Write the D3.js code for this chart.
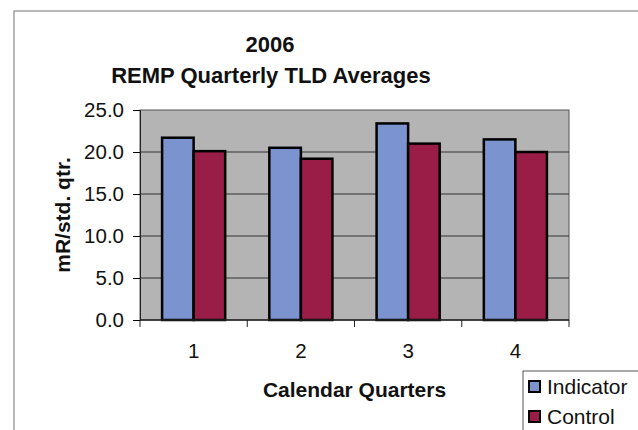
<!DOCTYPE html>
<html>
<head>
<meta charset="utf-8">
<script src="https://cdn.jsdelivr.net/npm/d3@7"></script>
<style>
  body { margin: 0; background: #fff; }
  svg text { font-family: "Liberation Sans", Arial, sans-serif; fill: #111; }
</style>
</head>
<body>
<div class="viz"></div>
<script>
// data
var quarters = ["1", "2", "3", "4"];
var seriesNames = ["Indicator", "Control"];
var indicator = [21.7, 20.5, 23.4, 21.5];
var control = [20.1, 19.2, 21.0, 20.0];
var yTicks = [0, 5, 10, 15, 20, 25];
var colors = ["#7b93cf", "#9a1d48"];

var width = 638, height = 430;
var margin = { top: 110, right: 69, bottom: 110, left: 140 };
var plotW = width - margin.left - margin.right;
var plotH = height - margin.top - margin.bottom;

var svg = d3.select(".viz").append("svg").attr("width", width).attr("height", height);

// outer chart frame (runs off the right and bottom of the scan)
svg.append("rect")
  .attr("x", 14).attr("y", 11)
  .attr("width", 700).attr("height", 500)
  .attr("fill", "#fff").attr("stroke", "#8a8a8a").attr("stroke-width", 1.2);

svg.append("text").attr("x", 270).attr("y", 52).attr("text-anchor", "middle")
  .style("font-size", "22px").style("font-weight", "bold").text("2006");
svg.append("text").attr("x", 271).attr("y", 83).attr("text-anchor", "middle")
  .style("font-size", "22px").style("font-weight", "bold").text("REMP Quarterly TLD Averages");

var g = svg.append("g").attr("transform", "translate(" + margin.left + "," + margin.top + ")");

var x = d3.scaleBand().domain(quarters).range([0, plotW]);
var x1 = d3.scaleBand().domain(seriesNames).range([0, x.bandwidth()]).paddingOuter(0.7);
var y = d3.scaleLinear().domain([0, 25]).range([plotH, 0]);

g.append("rect").attr("width", plotW).attr("height", plotH)
  .attr("fill", "#b4b4b4").attr("stroke", "#555").attr("stroke-width", 1);

g.selectAll("line.grid").data(yTicks.slice(1, -1)).enter().append("line")
  .attr("class", "grid")
  .attr("x1", 0).attr("x2", plotW)
  .attr("y1", function (d) { return y(d); }).attr("y2", function (d) { return y(d); })
  .attr("stroke", "#333").attr("stroke-width", 1);

var rows = quarters.map(function (q, i) {
  return { q: q, vals: [{ s: "Indicator", v: indicator[i] }, { s: "Control", v: control[i] }] };
});

g.selectAll("g.grp").data(rows).enter().append("g")
  .attr("class", "grp")
  .attr("transform", function (d) { return "translate(" + x(d.q) + ",0)"; })
  .selectAll("rect").data(function (d) { return d.vals; }).enter().append("rect")
  .attr("x", function (d) { return x1(d.s); })
  .attr("width", x1.bandwidth())
  .attr("y", function (d) { return y(d.v); })
  .attr("height", function (d) { return plotH - y(d.v); })
  .attr("fill", function (d, i) { return colors[i]; })
  .attr("stroke", "#000").attr("stroke-width", 2.5);

// y axis
var yAxis = g.append("g")
  .call(d3.axisLeft(y).tickValues(yTicks).tickFormat(d3.format(".1f")).tickSize(7).tickPadding(9));
yAxis.select(".domain").attr("stroke", "#222");
yAxis.selectAll("text").style("font-size", "20.5px");

// x axis with ticks at category boundaries
var xAxis = g.append("g").attr("transform", "translate(0," + plotH + ")");
xAxis.append("line").attr("x1", 0).attr("x2", plotW).attr("stroke", "#222").attr("stroke-width", 1.5);
var bounds = quarters.map(function (q) { return x(q); }).concat([plotW]);
xAxis.selectAll("line.tk").data(bounds).enter().append("line")
  .attr("class", "tk")
  .attr("x1", function (d) { return d; }).attr("x2", function (d) { return d; })
  .attr("y1", 0).attr("y2", 7).attr("stroke", "#222");
xAxis.selectAll("text").data(quarters).enter().append("text")
  .attr("x", function (d) { return x(d) + x.bandwidth() / 2; })
  .attr("y", 38).attr("text-anchor", "middle")
  .style("font-size", "20.5px").text(function (d) { return d; });

svg.append("text").attr("x", margin.left + plotW / 2).attr("y", 397).attr("text-anchor", "middle")
  .style("font-size", "21px").style("font-weight", "bold").text("Calendar Quarters");

svg.append("text").attr("transform", "translate(70,215) rotate(-90)").attr("text-anchor", "middle")
  .style("font-size", "21px").style("font-weight", "bold").text("mR/std. qtr.");

// legend
var leg = svg.append("g").attr("transform", "translate(523,371)");
leg.append("rect").attr("width", 140).attr("height", 80)
  .attr("fill", "#fff").attr("stroke", "#555").attr("stroke-width", 1);
seriesNames.forEach(function (s, i) {
  var row = leg.append("g").attr("transform", "translate(0," + (i * 30) + ")");
  row.append("rect").attr("x", 6).attr("y", 10).attr("width", 11).attr("height", 11)
    .attr("fill", colors[i]).attr("stroke", "#000").attr("stroke-width", 2);
  row.append("text").attr("x", 24).attr("y", 23).style("font-size", "21px").text(s);
});
</script>
</body>
</html>
